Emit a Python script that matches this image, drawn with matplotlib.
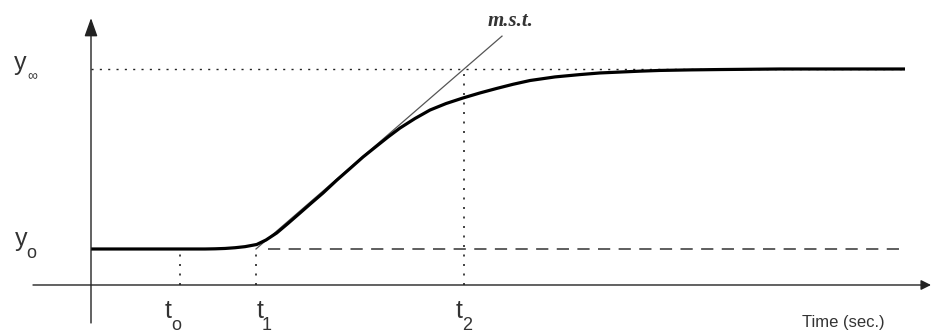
import matplotlib
matplotlib.use("Agg")
import matplotlib.pyplot as plt

# ---- data (time in s, response normalised: y0 = 0, y_inf = 1) ----
curve_t = [0.0, 1.14, 1.24, 1.34, 1.44, 1.54, 1.657, 1.75, 1.857, 1.97, 2.09,
           2.205, 2.32, 2.455, 2.59, 2.72, 2.857, 2.97, 3.09, 3.24, 3.39, 3.55,
           3.72, 3.89, 4.057, 4.22, 4.39, 4.64, 4.89, 5.09, 5.29, 5.49, 5.69,
           5.99, 6.29, 6.89, 8.14]
curve_y = [0.0, 0.0, 0.001, 0.003, 0.007, 0.013, 0.025, 0.05, 0.089, 0.142, 0.2,
           0.256, 0.311, 0.381, 0.447, 0.511, 0.572, 0.622, 0.672, 0.725, 0.772, 0.808,
           0.839, 0.867, 0.892, 0.915, 0.936, 0.956, 0.969, 0.978, 0.983, 0.988, 0.992,
           0.995, 0.997, 1.0, 1.0]
y0_level = 0.0
yinf_level = 1.0
t_marks = [0.89, 1.65, 3.73]          # t0, t1, t2
t_labels = ["t", "t", "t"]
t_subs = ["o", "1", "2"]
t_end = 8.14
tangent_end_t = 4.11
dash_start_t = 1.77
axis_y = -0.2
axis_x = 0.0

fig = plt.figure(figsize=(9.31, 3.33), dpi=100)
ax = fig.add_axes([0, 0, 1, 1])
ax.set_xlim(-0.91, 8.40)
ax.set_ylim(-0.4667, 1.3833)
ax.axis("off")

# axes with arrows
ax.annotate("", xy=(8.40, axis_y), xytext=(-0.58, axis_y),
            arrowprops=dict(arrowstyle="-|>,head_length=0.5,head_width=0.25", lw=1.0,
                            color="#222222", mutation_scale=12, shrinkA=0, shrinkB=0))
ax.annotate("", xy=(axis_x, 1.283), xytext=(axis_x, -0.411),
            arrowprops=dict(arrowstyle="-|>,head_length=0.7,head_width=0.25", lw=1.0,
                            color="#222222", mutation_scale=16, shrinkA=0, shrinkB=0))

# reference levels
ax.plot([axis_x, t_end], [yinf_level, yinf_level], color="#222222", lw=1.0,
        linestyle=(0, (1.5, 4.5)))
ax.plot([dash_start_t, t_end], [y0_level, y0_level], color="#333333", lw=1.1,
        linestyle=(0, (8, 5.5)))

# vertical dotted markers
ax.plot([t_marks[0]] * 2, [axis_y, y0_level], color="#222222", lw=1.2, linestyle=(0, (1.2, 4.5)))
ax.plot([t_marks[1]] * 2, [axis_y, y0_level], color="#222222", lw=1.2, linestyle=(0, (1.2, 4.5)))
ax.plot([t_marks[2]] * 2, [axis_y, yinf_level], color="#222222", lw=1.2, linestyle=(0, (1.2, 4.5)))

# maximum slope tangent
slope = (yinf_level - y0_level) / (t_marks[2] - t_marks[1])
ax.plot([t_marks[1], tangent_end_t],
        [y0_level, y0_level + slope * (tangent_end_t - t_marks[1])],
        color="#555555", lw=0.9)

# response curve
ax.plot(curve_t, curve_y, color="black", lw=2.3, solid_capstyle="butt",
        solid_joinstyle="round")

def px(xp, yp):
    return (xp - 91) / 100.0, (249 - yp) / 180.0

txt = dict(color="#333333", family="Liberation Sans", ha="center", va="center")

# y labels
ax.text(*px(20, 63), "y", fontsize=18, **txt)
ax.text(*px(32, 76), "\u221e", fontsize=10, **txt)
ax.text(*px(21, 239), "y", fontsize=18, **txt)
ax.text(*px(31, 254), "o", fontsize=13, **txt)

# t labels
t_main_px = [168.5, 260.5, 459]
t_sub_px = [176, 267, 467]
for lab, sub, xm, xs in zip(t_labels, t_subs, t_main_px, t_sub_px):
    ax.text(*px(xm, 311), lab, fontsize=18, **txt)
    ax.text(*px(xs, 326), sub, fontsize=13, **txt)

ax.text(*px(843, 323), "Time (sec.)", fontsize=12, **txt)
ax.text(*px(511, 21), "m.s.t.", fontsize=15, color="#333333", family="Liberation Serif",
        style="italic", weight="bold", ha="center", va="center")

fig.savefig("out.png", dpi=100)
